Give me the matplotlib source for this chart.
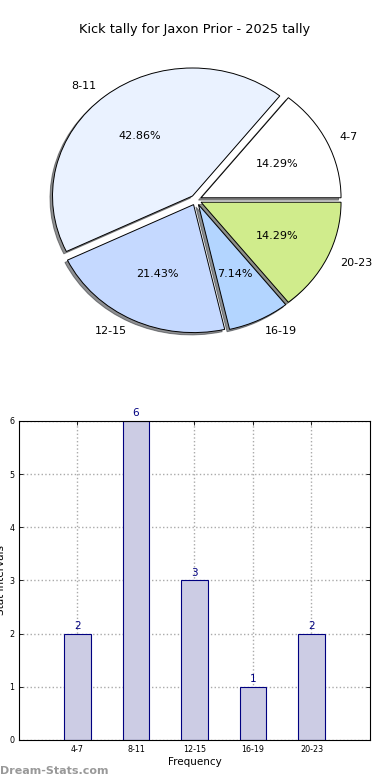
import matplotlib
matplotlib.use("Agg")
import matplotlib.pyplot as plt

categories = ["4-7", "8-11", "12-15", "16-19", "20-23"]
values = [2, 6, 3, 1, 2]
pie_colors = ["#ffffff", "#eaf2ff", "#c5d9ff", "#b3d5ff", "#d0ec8c"]
title = "Kick tally for Jaxon Prior - 2025 tally"

fig = plt.figure(figsize=(3.9, 7.8), dpi=100)
fig.patch.set_facecolor("white")

# Pie
axp = fig.add_axes([0.1077, 0.5631, 0.7897, 0.361])
axp.pie(values, labels=categories, colors=pie_colors, autopct="%.2f%%",
        explode=[0.04] * len(values),
        shadow=dict(ox=-0.013, oy=-0.013, shade=0.85), startangle=0,
        wedgeprops=dict(edgecolor="black", linewidth=0.7),
        textprops=dict(fontsize=8))
axp.set_aspect("auto")
axp.set_xlim(-1.1, 1.1)
axp.set_ylim(-1.1, 1.1)
axp.axis("off")
fig.text(0.5, 1 - 30 / 780, title, ha="center", va="center", fontsize=9.3)

# Bars
axb = fig.add_axes([0.0487, 0.0513, 0.9, 0.409])
x = list(range(len(categories)))
bars = axb.bar(x, values, width=0.45, color="#ccccE4", edgecolor="#000080", linewidth=0.8, zorder=2)
for xi, v in zip(x, values):
    axb.text(xi, v + 0.05, str(v), ha="center", va="bottom", color="#000080", fontsize=7.5)
axb.set_xlim(-1, 5)
axb.set_ylim(0, 6)
axb.set_xticks(x)
axb.set_xticklabels(categories, fontsize=5.8)
axb.set_yticks(range(0, 7))
axb.tick_params(axis="y", labelsize=5.8)
axb.tick_params(direction="in", right=True, top=True, length=3, width=0.6)
axb.grid(True, linestyle=":", color="#aaaaaa", linewidth=1.0, zorder=0)
axb.set_axisbelow(True)
axb.set_xlabel("Frequency", fontsize=7.5, labelpad=2)
axb.set_ylabel("Stat Intervals", fontsize=7.5, labelpad=2)
for s in axb.spines.values():
    s.set_linewidth(0.8)

fig.text(0.0, 1 - 771 / 780, "Dream-Stats.com", ha="left", va="center",
         fontsize=8, color="#999999", fontweight="bold")

fig.savefig("out.png", dpi=100)
